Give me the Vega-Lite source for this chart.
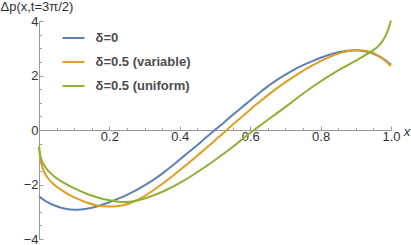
{
  "$schema": "https://vega.github.io/schema/vega-lite/v6.json",
  "width": 352,
  "height": 218,
  "autosize": "none",
  "padding": {"left": 39, "top": 21, "right": 20, "bottom": 6},
  "background": "white",
  "config": {
    "view": {"stroke": null},
    "font": "Liberation Sans",
    "axis": {"grid": false, "labelFont": "Liberation Sans", "labelFontSize": 13, "labelColor": "#333", "domainColor": "#999", "tickColor": "#999", "titleFont": "Liberation Sans"}
  },
  "data": {"values": [
    {"x":0,"y":-2.43,"s":"δ=0"},{"x":0.025,"y":-2.66,"s":"δ=0"},{"x":0.05,"y":-2.8,"s":"δ=0"},{"x":0.075,"y":-2.89,"s":"δ=0"},{"x":0.1,"y":-2.93,"s":"δ=0"},{"x":0.125,"y":-2.91,"s":"δ=0"},{"x":0.15,"y":-2.85,"s":"δ=0"},{"x":0.175,"y":-2.76,"s":"δ=0"},{"x":0.2,"y":-2.65,"s":"δ=0"},{"x":0.225,"y":-2.52,"s":"δ=0"},{"x":0.25,"y":-2.38,"s":"δ=0"},{"x":0.275,"y":-2.22,"s":"δ=0"},{"x":0.3,"y":-2.03,"s":"δ=0"},{"x":0.325,"y":-1.83,"s":"δ=0"},{"x":0.35,"y":-1.6,"s":"δ=0"},{"x":0.375,"y":-1.35,"s":"δ=0"},{"x":0.4,"y":-1.08,"s":"δ=0"},{"x":0.425,"y":-0.82,"s":"δ=0"},{"x":0.45,"y":-0.55,"s":"δ=0"},{"x":0.475,"y":-0.27,"s":"δ=0"},{"x":0.5,"y":0,"s":"δ=0"},{"x":0.525,"y":0.27,"s":"δ=0"},{"x":0.55,"y":0.55,"s":"δ=0"},{"x":0.575,"y":0.82,"s":"δ=0"},{"x":0.6,"y":1.08,"s":"δ=0"},{"x":0.625,"y":1.35,"s":"δ=0"},{"x":0.65,"y":1.6,"s":"δ=0"},{"x":0.675,"y":1.83,"s":"δ=0"},{"x":0.7,"y":2.03,"s":"δ=0"},{"x":0.725,"y":2.22,"s":"δ=0"},{"x":0.75,"y":2.38,"s":"δ=0"},{"x":0.775,"y":2.52,"s":"δ=0"},{"x":0.8,"y":2.65,"s":"δ=0"},{"x":0.825,"y":2.76,"s":"δ=0"},{"x":0.85,"y":2.85,"s":"δ=0"},{"x":0.875,"y":2.91,"s":"δ=0"},{"x":0.9,"y":2.93,"s":"δ=0"},{"x":0.925,"y":2.89,"s":"δ=0"},{"x":0.95,"y":2.8,"s":"δ=0"},{"x":0.975,"y":2.64,"s":"δ=0"},{"x":1,"y":2.4,"s":"δ=0"},

    {"x":0,"y":-0.6,"s":"δ=0.5 (variable)"},{"x":0.003,"y":-1.0,"s":"δ=0.5 (variable)"},{"x":0.008,"y":-1.3,"s":"δ=0.5 (variable)"},{"x":0.015,"y":-1.55,"s":"δ=0.5 (variable)"},{"x":0.025,"y":-1.76,"s":"δ=0.5 (variable)"},{"x":0.04,"y":-1.97,"s":"δ=0.5 (variable)"},{"x":0.06,"y":-2.17,"s":"δ=0.5 (variable)"},{"x":0.085,"y":-2.37,"s":"δ=0.5 (variable)"},{"x":0.11,"y":-2.53,"s":"δ=0.5 (variable)"},{"x":0.135,"y":-2.66,"s":"δ=0.5 (variable)"},{"x":0.16,"y":-2.75,"s":"δ=0.5 (variable)"},{"x":0.185,"y":-2.8,"s":"δ=0.5 (variable)"},{"x":0.21,"y":-2.81,"s":"δ=0.5 (variable)"},{"x":0.235,"y":-2.77,"s":"δ=0.5 (variable)"},{"x":0.26,"y":-2.68,"s":"δ=0.5 (variable)"},{"x":0.285,"y":-2.53,"s":"δ=0.5 (variable)"},{"x":0.31,"y":-2.34,"s":"δ=0.5 (variable)"},{"x":0.335,"y":-2.12,"s":"δ=0.5 (variable)"},{"x":0.36,"y":-1.88,"s":"δ=0.5 (variable)"},{"x":0.385,"y":-1.63,"s":"δ=0.5 (variable)"},{"x":0.41,"y":-1.37,"s":"δ=0.5 (variable)"},{"x":0.435,"y":-1.1,"s":"δ=0.5 (variable)"},{"x":0.46,"y":-0.83,"s":"δ=0.5 (variable)"},{"x":0.485,"y":-0.55,"s":"δ=0.5 (variable)"},{"x":0.51,"y":-0.27,"s":"δ=0.5 (variable)"},{"x":0.535,"y":0.02,"s":"δ=0.5 (variable)"},{"x":0.56,"y":0.3,"s":"δ=0.5 (variable)"},{"x":0.585,"y":0.58,"s":"δ=0.5 (variable)"},{"x":0.61,"y":0.86,"s":"δ=0.5 (variable)"},{"x":0.635,"y":1.12,"s":"δ=0.5 (variable)"},{"x":0.66,"y":1.38,"s":"δ=0.5 (variable)"},{"x":0.685,"y":1.62,"s":"δ=0.5 (variable)"},{"x":0.71,"y":1.84,"s":"δ=0.5 (variable)"},{"x":0.735,"y":2.05,"s":"δ=0.5 (variable)"},{"x":0.76,"y":2.25,"s":"δ=0.5 (variable)"},{"x":0.785,"y":2.43,"s":"δ=0.5 (variable)"},{"x":0.81,"y":2.59,"s":"δ=0.5 (variable)"},{"x":0.835,"y":2.73,"s":"δ=0.5 (variable)"},{"x":0.86,"y":2.84,"s":"δ=0.5 (variable)"},{"x":0.885,"y":2.91,"s":"δ=0.5 (variable)"},{"x":0.9,"y":2.93,"s":"δ=0.5 (variable)"},{"x":0.92,"y":2.92,"s":"δ=0.5 (variable)"},{"x":0.94,"y":2.87,"s":"δ=0.5 (variable)"},{"x":0.96,"y":2.76,"s":"δ=0.5 (variable)"},{"x":0.98,"y":2.58,"s":"δ=0.5 (variable)"},{"x":1,"y":2.35,"s":"δ=0.5 (variable)"},

    {"x":0,"y":-0.6,"s":"δ=0.5 (uniform)"},{"x":0.003,"y":-0.9,"s":"δ=0.5 (uniform)"},{"x":0.008,"y":-1.12,"s":"δ=0.5 (uniform)"},{"x":0.015,"y":-1.3,"s":"δ=0.5 (uniform)"},{"x":0.025,"y":-1.48,"s":"δ=0.5 (uniform)"},{"x":0.04,"y":-1.67,"s":"δ=0.5 (uniform)"},{"x":0.06,"y":-1.86,"s":"δ=0.5 (uniform)"},{"x":0.085,"y":-2.04,"s":"δ=0.5 (uniform)"},{"x":0.11,"y":-2.2,"s":"δ=0.5 (uniform)"},{"x":0.135,"y":-2.34,"s":"δ=0.5 (uniform)"},{"x":0.16,"y":-2.45,"s":"δ=0.5 (uniform)"},{"x":0.185,"y":-2.54,"s":"δ=0.5 (uniform)"},{"x":0.21,"y":-2.6,"s":"δ=0.5 (uniform)"},{"x":0.235,"y":-2.64,"s":"δ=0.5 (uniform)"},{"x":0.26,"y":-2.63,"s":"δ=0.5 (uniform)"},{"x":0.285,"y":-2.57,"s":"δ=0.5 (uniform)"},{"x":0.31,"y":-2.47,"s":"δ=0.5 (uniform)"},{"x":0.335,"y":-2.35,"s":"δ=0.5 (uniform)"},{"x":0.36,"y":-2.21,"s":"δ=0.5 (uniform)"},{"x":0.385,"y":-2.05,"s":"δ=0.5 (uniform)"},{"x":0.41,"y":-1.87,"s":"δ=0.5 (uniform)"},{"x":0.435,"y":-1.67,"s":"δ=0.5 (uniform)"},{"x":0.46,"y":-1.46,"s":"δ=0.5 (uniform)"},{"x":0.485,"y":-1.24,"s":"δ=0.5 (uniform)"},{"x":0.51,"y":-1.01,"s":"δ=0.5 (uniform)"},{"x":0.535,"y":-0.77,"s":"δ=0.5 (uniform)"},{"x":0.56,"y":-0.52,"s":"δ=0.5 (uniform)"},{"x":0.585,"y":-0.26,"s":"δ=0.5 (uniform)"},{"x":0.61,"y":-0.01,"s":"δ=0.5 (uniform)"},{"x":0.635,"y":0.23,"s":"δ=0.5 (uniform)"},{"x":0.66,"y":0.47,"s":"δ=0.5 (uniform)"},{"x":0.685,"y":0.7,"s":"δ=0.5 (uniform)"},{"x":0.71,"y":0.94,"s":"δ=0.5 (uniform)"},{"x":0.735,"y":1.19,"s":"δ=0.5 (uniform)"},{"x":0.76,"y":1.43,"s":"δ=0.5 (uniform)"},{"x":0.785,"y":1.65,"s":"δ=0.5 (uniform)"},{"x":0.81,"y":1.87,"s":"δ=0.5 (uniform)"},{"x":0.835,"y":2.07,"s":"δ=0.5 (uniform)"},{"x":0.86,"y":2.26,"s":"δ=0.5 (uniform)"},{"x":0.885,"y":2.44,"s":"δ=0.5 (uniform)"},{"x":0.91,"y":2.62,"s":"δ=0.5 (uniform)"},{"x":0.935,"y":2.81,"s":"δ=0.5 (uniform)"},{"x":0.955,"y":2.98,"s":"δ=0.5 (uniform)"},{"x":0.97,"y":3.16,"s":"δ=0.5 (uniform)"},{"x":0.98,"y":3.35,"s":"δ=0.5 (uniform)"},{"x":0.99,"y":3.62,"s":"δ=0.5 (uniform)"},{"x":0.996,"y":3.85,"s":"δ=0.5 (uniform)"},{"x":1,"y":4.02,"s":"δ=0.5 (uniform)"}
  ]},
  "mark": {"type": "line", "strokeWidth": 2, "interpolate": "monotone", "clip": false},
  "encoding": {
    "x": {
      "field": "x", "type": "quantitative",
      "scale": {"domain": [0, 1], "nice": false, "zero": false},
      "axis": {
        "offset": -109,
        "values": [0,0.05,0.1,0.15,0.2,0.25,0.3,0.35,0.4,0.45,0.5,0.55,0.6,0.65,0.7,0.75,0.8,0.85,0.9,0.95,1],
        "labelExpr": "(datum.value > 0.01 && abs(datum.value*5 - round(datum.value*5)) < 0.001) ? format(datum.value, '.1f') : ''",
        "tickSize": {"condition": {"test": "abs(datum.value*5 - round(datum.value*5)) < 0.001", "value": -4}, "value": -2.5},
        "labelPadding": 4,
        "labelBaseline": "top",
        "labelFlush": false,
        "labelOverlap": false,
        "title": "x",
        "titleFontStyle": "italic",
        "titleFontWeight": "normal",
        "titleFontSize": 13,
        "titleColor": "#333",
        "titleX": 367.5,
        "titleY": 1,
        "titleAlign": "center",
        "titleBaseline": "middle",
        "titleAngle": 0
      }
    },
    "y": {
      "field": "y", "type": "quantitative",
      "scale": {"domain": [-4, 4], "nice": false, "zero": false},
      "axis": {
        "values": [-4,-3.5,-3,-2.5,-2,-1.5,-1,-0.5,0,0.5,1,1.5,2,2.5,3,3.5,4],
        "labelExpr": "datum.value % 2 === 0 ? format(datum.value, 'd') : ''",
        "tickSize": {"condition": {"test": "datum.value % 2 === 0", "value": -4}, "value": -2.5},
        "labelPadding": 5,
        "labelFlush": false,
        "labelOverlap": false,
        "title": "Δp(x,t=3π/2)",
        "titleFontWeight": "normal",
        "titleFontSize": 13,
        "titleColor": "#333",
        "titleAngle": 0,
        "titleX": -39,
        "titleY": -14.5,
        "titleAlign": "left",
        "titleBaseline": "middle"
      }
    },
    "color": {
      "field": "s", "type": "nominal",
      "scale": {"domain": ["δ=0", "δ=0.5 (variable)", "δ=0.5 (uniform)"], "range": ["#5E81B5", "#E19C24", "#8FB032"]},
      "legend": {
        "orient": "none", "legendX": 22.5, "legendY": 5,
        "title": null, "padding": 0,
        "symbolType": "stroke", "symbolSize": 484, "symbolStrokeWidth": 2,
        "labelFont": "Liberation Sans", "labelFontSize": 13, "labelFontWeight": "bold", "labelColor": "#4d4d4d",
        "labelOffset": 10, "rowPadding": 5
      }
    }
  }
}
